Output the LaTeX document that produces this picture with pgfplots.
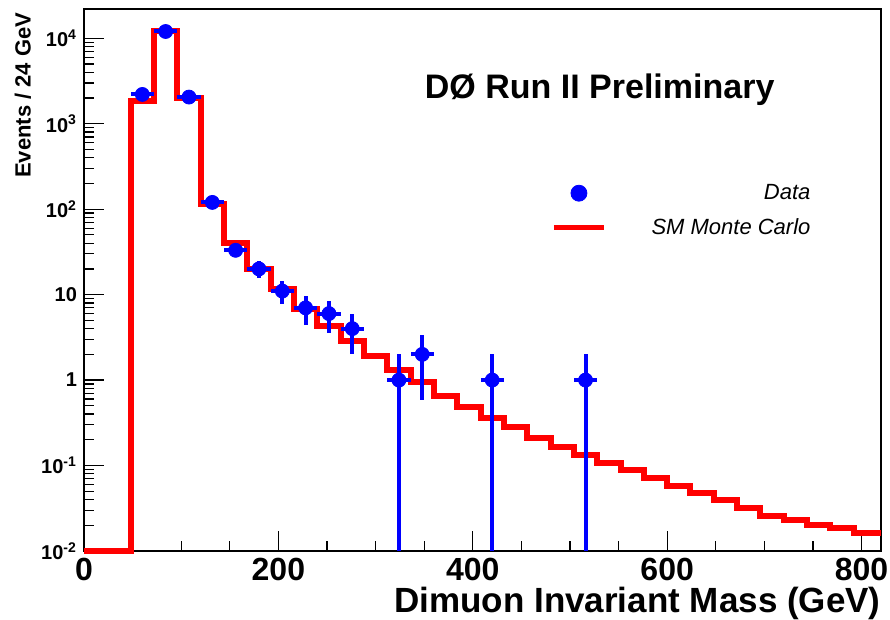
\documentclass[border=0pt]{standalone}
\usepackage{pgfplots}
\pgfplotsset{compat=1.18}
\usepackage{fontspec}
\setmainfont{Liberation Sans}
\definecolor{rootblue}{RGB}{0,0,255}
\definecolor{rootred}{RGB}{255,0,0}
\pgfplotsset{
  mcline/.style={legend image code/.code={\draw[##1] (0pt,0pt) -- (25pt,0pt);}},
  datamark/.style={legend image code/.code={\draw[##1] plot coordinates {(12.5pt,0pt)};}},
}
\begin{document}
\begin{tikzpicture}
\begin{axis}[
  name=ax,
  scale only axis,
  width=398.5pt, height=271pt,
  xmin=0, xmax=820,
  ymode=log, ymin=0.01, ymax=22000,
  xtick={0,200,400,600,800},
  xticklabels={0,200,400,600,800},
  minor x tick num=3,
  ytick={0.01,0.1,1,10,100,1000,10000},
  yticklabels={10\textsuperscript{-2},10\textsuperscript{-1},1,10,10\textsuperscript{2},10\textsuperscript{3},10\textsuperscript{4}},
  tick align=inside,
  xtick pos=bottom, ytick pos=left,
  major tick length=10pt, minor tick length=5pt,
  axis line style={line width=1pt},
  every tick/.style={black, line width=0.6pt},
  xticklabel style={font=\fontsize{16}{16}\selectfont\bfseries},
  yticklabel style={font=\fontsize{10}{10}\selectfont\bfseries},
  xlabel={Dimuon Invariant Mass (GeV)},
  xlabel style={font=\fontsize{17.5}{17.5}\selectfont\bfseries, at={(axis description cs:1,0)}, anchor=north east, yshift=-18pt, inner sep=0pt},
  ylabel={Events / 24 GeV},
  ylabel style={font=\fontsize{11}{11}\selectfont\bfseries, at={(axis description cs:-0.066,0.994)}, anchor=south east, inner sep=0pt},
  clip=false,
  legend style={at={(rel axis cs:0.917,0.685)}, anchor=north east, draw=none, fill=none, inner sep=0pt, row sep=4pt, font=\fontsize{11}{11}\selectfont\itshape},
]
% SM Monte Carlo histogram (bin left edges, 24 GeV bins)
\addplot[const plot, rootred, line width=3pt, forget plot] coordinates {
  (0,0.01) (24,0.01) (48,1850) (72,12000) (96,2000) (120,116) (144,40)
  (168,20) (192,11.7) (216,6.8) (240,4.3) (264,2.9) (288,1.92) (312,1.32)
  (336,0.96) (360,0.65) (384,0.485) (408,0.36) (432,0.28) (456,0.21)
  (480,0.165) (504,0.134) (528,0.107) (552,0.088) (576,0.071) (600,0.057)
  (624,0.048) (648,0.040) (672,0.032) (696,0.026) (720,0.023) (744,0.020)
  (768,0.0185) (792,0.0163) (820,0.0163)
};
% data
\addplot[only marks, mark=*, mark size=3.5pt, rootblue, forget plot,
  error bars/.cd, x dir=both, x explicit, y dir=both, y explicit,
  error mark=none, error bar style={line width=2pt, rootblue}]
  table[x=x, y=y, x error=ex, y error plus=eyp, y error minus=eym] {
x y ex eyp eym
60 2200 12 47 47
84 12000 12 110 110
108 2050 12 45 45
132 120 12 11 11
156 33 12 5.7 5.7
180 20 12 4.5 4.5
204 11 12 3.3 3.3
228 7 12 2.6 2.6
252 6 12 2.4 2.4
276 4 12 2 2
324 1 12 1 0.99
348 2 12 1.41 1.41
420 1 12 1 0.99
516 1 12 1 0.99
};
\addlegendimage{only marks, mark=*, mark size=4pt, rootblue, datamark}
\addlegendentry{\makebox[100pt][r]{Data}}
\addlegendimage{rootred, line width=2.5pt, mcline}
\addlegendentry{\makebox[100pt][r]{SM Monte Carlo}}
\node[font=\fontsize{17}{17}\selectfont\bfseries] at (rel axis cs:0.647,0.851) {DØ Run II Preliminary};
\end{axis}
\pgfresetboundingbox
\path ([shift={(-42pt,-34pt)}]ax.south west) rectangle ([shift={(4.5pt,4.5pt)}]ax.north east);
\end{tikzpicture}
\end{document}
